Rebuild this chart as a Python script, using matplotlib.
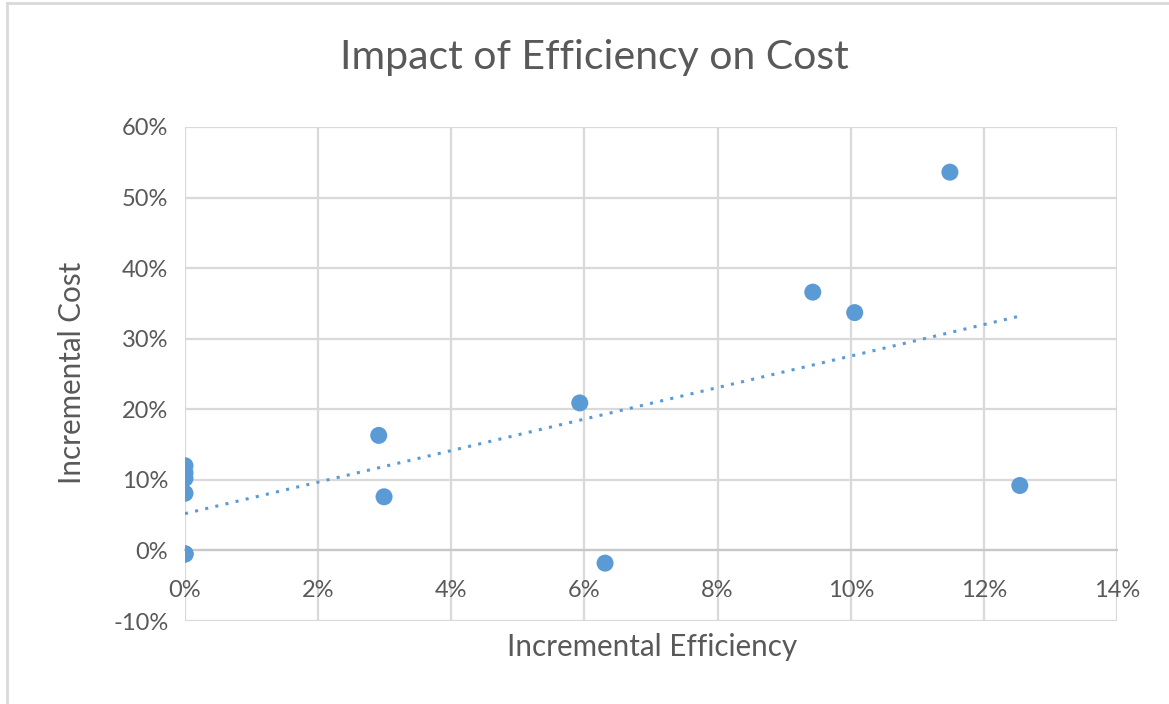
import numpy as np
import matplotlib
matplotlib.use("Agg")
import matplotlib.pyplot as plt
from matplotlib.ticker import PercentFormatter, MultipleLocator
from matplotlib.lines import Line2D

# Incremental efficiency vs incremental cost (fractions)
efficiency = [0.0, 0.0, 0.0, 0.0, 0.0, 0.0, 0.0,
              0.0291, 0.0299, 0.0593, 0.0631,
              0.0943, 0.1006, 0.1149, 0.1254]
cost = [0.120, 0.110, 0.102, 0.081, -0.005, -0.005, -0.005,
        0.163, 0.076, 0.209, -0.018,
        0.366, 0.337, 0.536, 0.092]

title = "Impact of Efficiency on Cost"
x_label = "Incremental Efficiency"
y_label = "Incremental Cost"

blue = "#5b9bd5"
grid_c = "#d9d9d9"
text_c = "#595959"
font = ["Lato", "DejaVu Sans"]
plt.rcParams["font.family"] = font
plt.rcParams["axes.unicode_minus"] = False

fig = plt.figure(figsize=(11.69, 7.04), dpi=100)
ax = fig.add_axes([185 / 1169, 1 - 621 / 704, (1117 - 185) / 1169, (621 - 127) / 704])

ax.set_xlim(0, 0.14)
ax.set_ylim(-0.10, 0.60)
ax.xaxis.set_major_locator(MultipleLocator(0.02))
ax.yaxis.set_major_locator(MultipleLocator(0.10))
ax.xaxis.set_major_formatter(PercentFormatter(1.0, decimals=0))
ax.yaxis.set_major_formatter(PercentFormatter(1.0, decimals=0))

ax.grid(True, color=grid_c, linewidth=1.6, zorder=0)
ax.set_axisbelow(True)
for side in ("top", "right", "left"):
    ax.spines[side].set_visible(False)
ax.spines["bottom"].set_position(("data", 0))
ax.spines["bottom"].set_color("#c8c8c8")
ax.spines["bottom"].set_linewidth(1.6)
ax.tick_params(axis="both", length=0, labelsize=17, colors=text_c)
ax.tick_params(axis="x", pad=21)
ax.tick_params(axis="y", pad=12)

ax.scatter(efficiency, cost, s=150, color=blue, edgecolors="none", zorder=3)

# Linear trendline over the data range
x = np.array(efficiency)
y = np.array(cost)
slope, intercept = np.polyfit(x, y, 1)
xs = np.array([x.min(), x.max()])
ax.plot(xs, slope * xs + intercept, color=blue, linewidth=2.2,
        linestyle=(0, (1, 2.4)), zorder=2)

fig.text(594 / 1169, 1 - 58 / 704, title, ha="center", va="center",
         fontsize=29.5, color=text_c)
fig.text(652 / 1169, 1 - 647 / 704, x_label, ha="center", va="center",
         fontsize=21.3, color=text_c)
fig.text(72 / 1169, 1 - 373 / 704, y_label, ha="center", va="center",
         rotation=90, fontsize=21.3, color=text_c)

# chart frame edges
fig.add_artist(Line2D([7 / 1169, 1.0], [1 - 3 / 704, 1 - 3 / 704],
                      transform=fig.transFigure, color="#d9d9d9", linewidth=2))
fig.add_artist(Line2D([7 / 1169, 7 / 1169], [0, 1 - 3 / 704],
                      transform=fig.transFigure, color="#d9d9d9", linewidth=2))

fig.savefig("out.png", dpi=100)
